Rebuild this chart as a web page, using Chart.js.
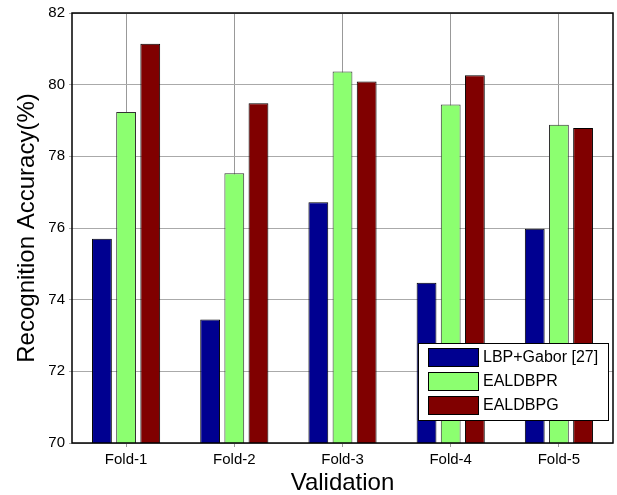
<!DOCTYPE html>
<html>
<head>
<meta charset="utf-8">
<script src="https://cdn.jsdelivr.net/npm/chart.js@4"></script>
<style>
  html, body { margin: 0; padding: 0; background: #fff; }
  #wrap { width: 617px; height: 495px; position: relative; }
</style>
</head>
<body>
<div id="wrap"><canvas id="accChart"></canvas></div>
<script>
const folds = ['Fold-1', 'Fold-2', 'Fold-3', 'Fold-4', 'Fold-5'];
const lbpGabor = [75.70, 73.45, 76.72, 74.47, 75.98];
const ealdbpr = [79.24, 77.53, 80.37, 79.45, 78.88];
const ealdbpg = [81.14, 79.48, 80.09, 80.26, 78.79];
const yTicks = [70, 72, 74, 76, 78, 80, 82];

const font = "Arial, 'Liberation Sans', sans-serif";

// legend drawn inside the plot, lower right, matlab style
const boxLegend = {
  id: 'boxLegend',
  afterDatasetsDraw(chart) {
    const { ctx, chartArea } = chart;
    const w = 190, h = 77;
    const x = chartArea.right - 5 - w;
    const y = chartArea.bottom - 23 - h;
    ctx.save();
    ctx.fillStyle = '#fff';
    ctx.fillRect(x, y, w, h);
    ctx.strokeStyle = '#000';
    ctx.lineWidth = 1;
    ctx.strokeRect(x + 0.5, y + 0.5, w, h);
    ctx.font = '16px ' + font;
    ctx.textBaseline = 'middle';
    chart.data.datasets.forEach((ds, i) => {
      const sy = y + 5 + i * 24;
      ctx.fillStyle = ds.backgroundColor;
      ctx.fillRect(x + 10, sy, 50, 18);
      ctx.strokeStyle = '#000';
      ctx.strokeRect(x + 10.5, sy + 0.5, 50, 18);
      ctx.fillStyle = '#000';
      ctx.fillText(ds.label, x + 65, sy + 10);
    });
    ctx.restore();
  }
};

// black frame round the axes
const frame = {
  id: 'frame',
  afterDraw(chart) {
    const { ctx, chartArea: a } = chart;
    ctx.save();
    ctx.strokeStyle = '#000';
    ctx.lineWidth = 1.5;
    ctx.strokeRect(a.left, a.top, a.right - a.left, a.bottom - a.top);
    ctx.restore();
  }
};

const ctx = document.getElementById('accChart').getContext('2d');
const accChart = new Chart(ctx, {
  type: 'bar',
  data: {
    labels: folds,
    datasets: [{
      label: 'LBP+Gabor [27]',
      data: lbpGabor,
      backgroundColor: '#000090',
      borderColor: '#000',
      borderWidth: 1
    }, {
      label: 'EALDBPR',
      data: ealdbpr,
      backgroundColor: '#8cff70',
      borderColor: '#333',
      borderWidth: 1
    }, {
      label: 'EALDBPG',
      data: ealdbpg,
      backgroundColor: '#800000',
      borderColor: '#000',
      borderWidth: 1
    }]
  },
  options: {
    responsive: true,
    maintainAspectRatio: false,
    animation: false,
    layout: { padding: { top: 13, right: 4, left: 0, bottom: 0 } },
    plugins: {
      legend: { display: false },
      tooltip: { enabled: false }
    },
    datasets: {
      bar: { categoryPercentage: 0.67, barPercentage: 0.82 }
    },
    scales: {
      x: {
        grid: { offset: false, color: '#999', tickLength: 4, drawTicks: true },
        border: { display: false },
        ticks: { color: '#000', font: { family: font, size: 15 }, padding: 4 },
        title: {
          display: true, text: 'Validation', color: '#000',
          font: { family: font, size: 24 }, padding: { top: 0, bottom: -3 }
        },
        afterFit(scale) { scale.height = 52; }
      },
      y: {
        min: 70,
        max: 82,
        afterBuildTicks(scale) { scale.ticks = yTicks.map(v => ({ value: v })); },
        grid: { color: '#aaa', tickLength: 3 },
        border: { display: false },
        ticks: { color: '#000', font: { family: font, size: 15 }, padding: 4 },
        title: {
          display: true, text: 'Recognition Accuracy(%)', color: '#000',
          font: { family: font, size: 24 }, padding: { top: 13, bottom: 0 }
        },
        afterFit(scale) { scale.width = 72; }
      }
    }
  },
  plugins: [boxLegend, frame]
});
</script>
</body>
</html>
